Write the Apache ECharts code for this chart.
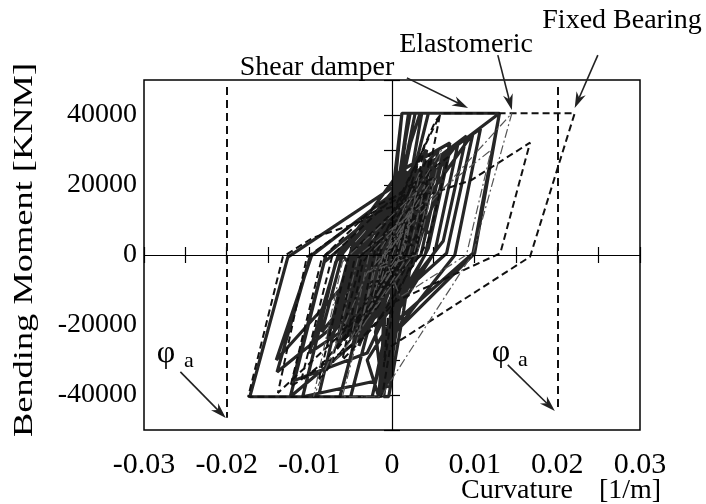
<!DOCTYPE html>
<html>
<head>
<meta charset="utf-8">
<script src="https://cdn.jsdelivr.net/npm/echarts@6/dist/echarts.min.js"></script>
<style>
  html, body { margin: 0; padding: 0; background: #fff; }
  #chart { width: 706px; height: 504px; }
</style>
</head>
<body>
<div id="chart"></div>
<script>
// axis ranges (curvature 1/m, moment KNM)
const xRange = [-0.03, 0.03]
const yRange = [-50000, 50000]

// allowable curvature lines, top and bottom of each
const phiA = [-0.02, 0.02]
const phiTop = [48000, 48000]
const phiBottom = [-46500, -44500]

// turning points
const shearDamper = [
  [0, 0], [0.0012, 8000], [0.0004, 0], [-0.0010, -6000], [-0.0004, 0],
  [0.0022, 12000], [0.0010, 0], [-0.0018, -10500], [-0.0008, 0],
  [0.0030, 16000], [0.0015, 0], [-0.0026, -14000], [-0.0012, 0],
  [0.0004, 21000], [0.0012, 40500], [0.0034, 40500], [0.0002, 17000],
  [-0.0007, 0], [-0.0046, -19000], [-0.0025, 0],
  [0.0050, 26000], [0.0026, 0], [-0.0006, -24300], [-0.0015, -40500],
  [-0.0024, -40500], [0.0014, -2000], [0.0062, 28500], [0.0035, 0],
  [-0.0051, -16600], [-0.0139, -33400], [-0.0099, -500], [0.0020, 21000],
  [0.0004, 2000], [-0.0032, -13000], [-0.0063, -40500], [-0.0089, -40500],
  [-0.0048, 0], [0.0008, 14000], [-0.0006, 0], [-0.0040, -20000],
  [-0.0020, -2000], [0.0036, 23000], [0.0016, 0], [-0.0030, -22000],
  [-0.0123, -40500], [-0.0080, 0], [0.0044, 24000], [0.0020, 0],
  [-0.0010, -17000], [-0.0013, -36000], [0.0012, -6000], [0.0030, 10000],
  [0.0015, -4000], [-0.0008, -30000], [0.0002, -21000], [-0.0005, 4000],
  [0.0003, 22000], [0.0012, 40500], [0.0130, 40500], [0.0100, 500],
  [-0.0006, -24300], [-0.0015, -40500], [-0.0172, -40500], [-0.0126, -600],
  [0.0107, 36000], [0.0076, 0], [-0.0010, -26000], [0.0015, 0],
  [0.0040, 9000], [0.0025, -3000], [-0.0055, -20000], [-0.0030, 2000],
  [0.0025, 18000], [0.0008, -2000], [-0.0038, -9000], [-0.0062, -14000],
  [-0.0040, 4000], [0.0010, 15000], [-0.0005, 0], [-0.0060, -9000],
  [-0.0140, -30000], [-0.0097, 0], [0.0130, 40500], [0.0098, 500],
  [0.0000, -20000], [0.0018, 2000], [-0.0030, -8000], [0.0098, 34800],
  [0.0066, 500], [-0.0040, -22000], [-0.0020, 0],
  [-0.0045, -6000], [0.0080, 32000], [0.0052, 1000], [-0.0030, -30000],
  [-0.0016, -40500], [-0.0050, -40500], [-0.0012, -6000], [0.0070, 30000],
  [0.0044, 2000], [-0.0008, -22000], [-0.0020, -36000], [-0.0108, -40500],
  [-0.0068, -2000], [0.0000, 18000], [0.0090, 34000], [0.0062, 4000],
  [-0.0010, -18000], [-0.0030, -28000], [-0.0120, -36000], [-0.0082, -2000],
  [-0.0020, 10000], [0.0056, 30000], [0.0036, 6000], [-0.0018, -15000],
  [-0.0100, -28000], [-0.0065, 0], [0.0010, 24000], [0.0070, 32000],
  [0.0046, 6000],
  [0.0018, 12000], [0.0006, -4000], [-0.0034, -16000], [-0.0016, 2000],
  [0.0026, 17000], [0.0010, -2000], [-0.0044, -20000], [-0.0024, 1000],
  [0.0034, 21000], [0.0016, -1000], [-0.0058, -23000], [-0.0034, -1000],
  [0.0016, 15000], [0.0003, -6000], [-0.0028, -19000], [-0.0012, -3000],
  [0.0040, 25000], [0.0022, 3000], [-0.0066, -26000], [-0.0044, -2000],
  [0.0010, 18000], [-0.0002, 4000], [-0.0036, -10000], [-0.0018, 6000],
  [0.0024, 22000], [0.0012, 6000], [-0.0050, -14000], [-0.0030, 4000],
  [0.0030, 19000], [0.0014, 3000], [-0.0070, -18000], [-0.0048, 2000],
  [-0.0010, 12000], [0.0046, 27000], [0.0026, 6000], [-0.0020, -8000],
  [-0.0078, -24000], [-0.0055, -3000], [-0.0010, 10000], [0.0020, 16000],
  [0.0004, -1000], [-0.0040, -26000], [-0.0016, -5000], [0.0028, 14000],
  [-0.0008, 0], [0.0022, 40500], [0.0028, 40500], [0.0004, 12000],
  [-0.0010, -4000], [-0.0050, -24000], [-0.0030, 0], [0.0018, 16000],
  [0.0036, 40500], [0.0044, 40500], [0.0012, 10000], [-0.0005, -8000],
  [-0.0045, -12000], [-0.0072, -20000], [-0.0050, 0], [0.0000, 17000],
  [0.0030, 26000], [0.0008, 3000], [-0.0020, -22000], [-0.0012, -38000],
  [0.0008, -10000], [0.0022, 4000], [0.0000, -14000], [-0.0065, -25000],
  [-0.0040, 2000], [0.0005, 19000], [0.0042, 30000], [0.0020, 5000],
  [-0.0015, -14000], [-0.0010, -20000], [-0.0014, -38000], [0.0006, -12000],
  [0.0016, 2000], [-0.0004, -28000], [-0.0010, -40500], [-0.0004, -40500],
  [0.0014, -16000], [0.0024, 0], [0.0004, -18000], [-0.0008, -34000],
  [0.0010, -8000], [0.0060, 20000], [0.0040, 0], [0.0010, -12000],
  [0.0022, -2000], [0.0002, 10000], [0.0020, 40500], [0.0005, 16000],
  [-0.0004, 6000], [0.0016, 32000], [0.0004, 14000], [-0.0006, 2000],
  [0.0026, 36000], [0.0010, 18000], [-0.0030, -6000], [-0.0085, -22000],
  [-0.0060, 0],
  [-0.0008, -16000], [-0.0016, -40500], [0.0004, -20000], [-0.0006, -38000],
  [0.0010, -14000], [-0.0004, -36000], [0.0002, -26000], [-0.0012, -40500],
  [0.0008, -18000], [-0.0002, -32000], [0.0012, -6000],
  [0.0020, 9000], [-0.0010, -3000], [-0.0050, -18000], [-0.0026, -2000],
  [0.0010, 8000], [-0.0014, -6000], [-0.0062, -20000], [-0.0040, -4000],
  [0.0005, 10000], [0.0038, 20000], [0.0018, 4000], [-0.0024, -10000],
  [-0.0042, -16000], [-0.0020, 0], [0.0012, 11000], [-0.0030, -3000],
  [-0.0068, -14000], [-0.0046, 4000], [-0.0012, 13000], [0.0022, 20000],
  [0.0004, 2000], [-0.0034, -14000], [-0.0056, -18000], [-0.0032, 6000],
  [0.0016, 22000], [0.0006, 10000], [-0.0028, -6000],
  [-0.0030, -14000], [-0.0010, 4000], [0.0026, 15000], [0.0008, -6000],
  [-0.0046, -17000], [-0.0022, 3000], [0.0014, 16000], [-0.0004, -2000],
  [-0.0054, -21000], [-0.0030, -4000], [0.0020, 19000], [0.0002, 2000],
  [-0.0024, -16000], [-0.0060, -24000], [-0.0036, -6000], [0.0006, 14000],
  [0.0032, 24000], [0.0012, 6000], [-0.0018, -12000], [-0.0044, -9000],
  [-0.0064, -16000], [-0.0040, 2000], [-0.0016, 9000], [0.0018, 24000],
  [0.0000, 8000], [-0.0020, -2000], [-0.0052, -12000], [-0.0026, 8000],
  [0.0008, 21000], [-0.0010, 6000], [-0.0036, -20000], [-0.0018, -10000],
  [0.0014, 4000], [-0.0006, -12000], [-0.0048, -26000], [-0.0026, -8000],
  [0.0010, 12000], [0.0040, 16000], [0.0020, -4000], [-0.0030, -16000],
  [-0.0008, -6000], [0.0024, 6000], [0.0004, -8000], [-0.0040, -8000],
  [-0.0070, -22000], [-0.0044, -8000], [-0.0010, 6000], [0.0028, 18000],
  [0.0008, 0], [-0.0016, -20000], [-0.0006, -8000], [0.0016, 10000],
  [0.0032, 14000], [0.0016, -1000], [-0.0028, -12000],
  [-0.0012, 1000], [0.0024, 11000], [0.0012, -1500], [-0.0020, -9000],
  [-0.0008, 500], [0.0016, 7000], [0.0006, -1000], [-0.0012, -6000],
  [-0.0004, 0], [0.0008, 4000], [0.0002, 0], [-0.0006, -3000], [0, 0]
]

const fixedBearing = [
  [0, 0], [0.0014, 7000], [0.0005, 0], [-0.0012, -7000], [-0.0004, 0],
  [0.0024, 11000], [0.0011, 0], [-0.0022, -12000], [-0.0009, 0],
  [0.0034, 17000], [0.0017, 0], [-0.0035, -17000], [-0.0016, 0],
  [0.0046, 29000], [0.0030, 3000], [-0.0020, 0], [0.0052, 38000],
  [0.0060, 40500], [0.0221, 40500], [0.0167, -500], [-0.0002, -26200],
  [-0.0012, -40500], [-0.0174, -40500], [-0.0132, -500], [-0.0096, 4900],
  [-0.0042, 9100], [-0.0011, 12900], [0.0096, 21400], [0.0167, 32100],
  [0.0131, 500], [0.0004, -13300], [-0.0039, -24300], [-0.0123, -37700],
  [-0.0085, -1000], [-0.0020, 14000], [0.0050, 22000], [0.0028, 0],
  [-0.0050, -20000], [-0.0138, -39400], [-0.0103, -600], [-0.0040, 10000],
  [0.0030, 19000], [0.0012, 0], [-0.0030, -18000], [-0.0089, -36000],
  [-0.0052, 0], [0.0000, 12000], [0.0058, 40000], [0.0030, 6000],
  [-0.0020, -16000], [-0.0008, 0], [0.0026, 12000], [0.0012, -1000],
  [-0.0040, -21000], [-0.0020, 2000], [0.0036, 24000], [0.0018, 2000],
  [-0.0060, -22000], [-0.0036, 0], [0.0020, 18000], [0.0040, 32000],
  [0.0024, 12000], [-0.0010, -10000], [-0.0070, -28000], [-0.0046, -2000],
  [0.0010, 10000], [0.0044, 20000], [0.0024, -2000], [-0.0005, -18000],
  [-0.0010, -32000], [0.0006, -8000], [0.0030, 2000], [0.0008, -4000],
  [-0.0080, -30000], [-0.0110, -36000], [-0.0072, 0], [0.0000, 16000],
  [0.0068, 28000], [0.0044, 4000], [-0.0020, -20000], [-0.0060, -30000],
  [-0.0035, -2000], [0.0016, 14000],
  [-0.0024, -12000], [-0.0010, 0], [0.0018, 8000], [0.0006, -1000],
  [-0.0014, -7000], [-0.0005, 0], [0.0008, 4000], [0, 0]
]

const elastomeric = [
  [0, 0], [0.0015, 9000], [0.0006, 0], [-0.0014, -8000], [-0.0005, 0],
  [0.0026, 14000], [0.0012, 0], [-0.0026, -15000], [-0.0011, 0],
  [0.0040, 20000], [0.0020, 0], [-0.0040, -22000], [-0.0018, 0],
  [0.0060, 30000], [0.0030, 0], [-0.0030, -5000], [-0.0095, -40500],
  [-0.0060, -2000], [0.0030, 18000], [0.0010, 0], [-0.0030, -5000],
  [0.0145, 40500], [0.0098, 500], [-0.0006, -37600], [-0.0012, -40500],
  [-0.0060, -40500], [-0.0020, -4000], [0.0050, 22000], [0.0026, 0],
  [-0.0035, -20000], [-0.0075, -32000], [-0.0040, 0], [0.0120, 30000],
  [0.0090, 0], [0.0010, -12000], [-0.0010, 0], [0.0034, 24000],
  [0.0016, 2000], [-0.0050, -24000], [-0.0028, 0], [0.0022, 12000],
  [0.0010, 0], [-0.0020, -10000], [-0.0008, 0], [0.0012, 6000], [0, 0]
]

// annotation arrows: from [x, y] to [x, y], in data units
const arrows = [
  [[0.0018, 50600], [0.0092, 42000]],
  [[0.0128, 57100], [0.0145, 41400]],
  [[0.0249, 57100], [0.0221, 42000]],
  [[-0.0256, -33400], [-0.0201, -46600]],
  [[0.0140, -31400], [0.0197, -44600]]
]

const serif = 'Liberation Serif'

const chart = echarts.init(document.getElementById('chart'))

const xLabel = v => {
  const k = Math.round(v * 1000)
  if (k % 10 !== 0) return ''
  return k === 0 ? '0' : (k / 1000).toFixed(2)
}
const yLabel = v => (v % 20000 === 0 && Math.abs(v) < 50000 ? String(v) : '')

const tick = { show: true, inside: true, length: 8, lineStyle: { color: '#000', width: 1.2 } }

const option = {
  animation: false,
  backgroundColor: '#fff',
  grid: { left: 144, right: 66, top: 80, bottom: 74, show: true, borderColor: '#000', borderWidth: 1.5 },
  xAxis: [
    {
      type: 'value', min: xRange[0], max: xRange[1], interval: 0.005,
      axisLine: { show: false }, splitLine: { show: false }, axisTick: tick,
      axisLabel: { formatter: xLabel, interval: 0, fontSize: 30, fontFamily: serif, color: '#000', margin: 20 }
    },
    {
      type: 'value', position: 'top', min: xRange[0], max: xRange[1], interval: 0.005,
      axisLine: { show: false }, splitLine: { show: false }, axisTick: tick, axisLabel: { show: false }
    }
  ],
  yAxis: [
    {
      type: 'value', min: yRange[0], max: yRange[1], interval: 10000,
      axisLine: { show: false }, splitLine: { show: false }, axisTick: tick,
      axisLabel: { formatter: yLabel, interval: 0, fontSize: 28, fontFamily: serif, color: '#000', margin: 7 }
    },
    {
      type: 'value', position: 'right', min: yRange[0], max: yRange[1], interval: 10000,
      axisLine: { show: false }, splitLine: { show: false }, axisTick: tick, axisLabel: { show: false }
    }
  ],
  series: [
    {
      name: 'frame', type: 'line', data: [], silent: true,
      markLine: {
        silent: true, symbol: 'none', label: { show: false },
        lineStyle: { color: '#000', width: 1.2, type: 'solid' },
        data: [
          { xAxis: 0 }, { yAxis: 0 },
          ...phiA.map((x, i) => [
            { coord: [x, phiTop[i]], lineStyle: { type: [8, 5], width: 2, color: '#111' } },
            { coord: [x, phiBottom[i]] }
          ])
        ]
      }
    },
    {
      name: 'Shear damper', type: 'line', data: shearDamper, showSymbol: false, symbol: 'none',
      lineStyle: { color: '#262626', width: 3.2 }, z: 3
    },
    {
      name: 'Fixed Bearing', type: 'line', data: fixedBearing, showSymbol: false, symbol: 'none',
      lineStyle: { color: '#111', width: 2, type: [7, 4] }, z: 4
    },
    {
      name: 'Elastomeric', type: 'line', data: elastomeric, showSymbol: false, symbol: 'none',
      lineStyle: { color: '#555', width: 1.2, type: [9, 3, 2, 3] }, z: 5
    }
  ]
}

chart.setOption(option)

// arrows and annotation text
const graphics = []
arrows.forEach(([from, to]) => {
  const a = chart.convertToPixel({ gridIndex: 0 }, from)
  const b = chart.convertToPixel({ gridIndex: 0 }, to)
  const dx = b[0] - a[0], dy = b[1] - a[1]
  const len = Math.sqrt(dx * dx + dy * dy)
  const ux = dx / len, uy = dy / len
  const hl = 16, hw = 5
  const base = [b[0] - ux * hl, b[1] - uy * hl]
  const notch = [b[0] - ux * hl * 0.7, b[1] - uy * hl * 0.7]
  graphics.push({
    type: 'polyline', silent: true,
    shape: { points: [a, notch] },
    style: { stroke: '#222', lineWidth: 1.6, fill: null }
  })
  graphics.push({
    type: 'polygon', silent: true,
    shape: { points: [b, [base[0] - uy * hw, base[1] + ux * hw], notch, [base[0] + uy * hw, base[1] - ux * hw]] },
    style: { fill: '#222' }
  })
})

const txt = (text, x, y, size, extra) => Object.assign({
  type: 'text', x, y, silent: true,
  style: { text, fontSize: size, fontFamily: serif, fill: '#000', align: 'center', verticalAlign: 'middle' }
}, extra || {})

graphics.push(txt('Shear damper', 317, 68, 28))
graphics.push(txt('Elastomeric', 466, 45, 28))
graphics.push(txt('Fixed Bearing', 622, 21, 28))
graphics.push(txt('\u03c6', 166, 354, 32))
graphics.push(txt('a', 189, 361, 22))
graphics.push(txt('\u03c6', 501, 353, 32))
graphics.push(txt('a', 523, 360, 22))
graphics.push(txt('Curvature', 517, 491, 28))
graphics.push(txt('[1/m]', 630, 491, 28))
graphics.push(txt('Bending Moment [KNM]', 25, 250, 28, { rotation: Math.PI / 2, scaleX: 1.3 }))

chart.setOption({ graphic: graphics })
</script>
</body>
</html>
